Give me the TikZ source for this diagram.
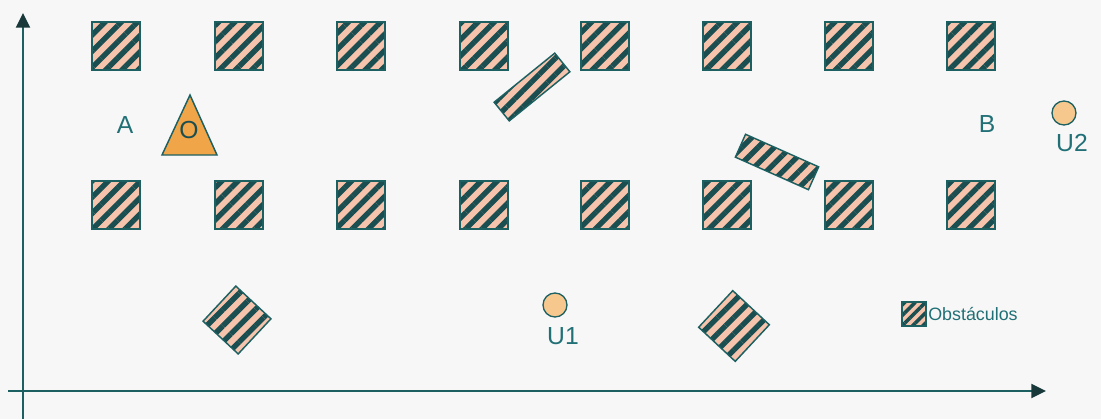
\documentclass[tikz,border=0pt]{standalone}
\usepackage{fontspec}
\setmainfont{Liberation Sans}
\usetikzlibrary{patterns.meta,arrows.meta,calc}
\definecolor{fondo}{RGB}{247,247,247}
\definecolor{verdeosc}{RGB}{28,96,98}
\definecolor{rayas}{RGB}{26,78,80}
\definecolor{flecha}{RGB}{24,56,58}
\definecolor{salmon}{RGB}{246,196,172}
\definecolor{naranja}{RGB}{240,165,72}
\definecolor{crema}{RGB}{246,200,142}
\definecolor{textoc}{RGB}{32,112,118}
% obstaculo girado: centro, angulo, semilargo, semiancho
\newcommand{\obstgirado}[4]{%
  \draw[obst] ($(#1)+(#2:#3)+(#2+90:#4)$) -- ($(#1)+(#2+180:#3)+(#2+90:#4)$)
    -- ($(#1)+(#2+180:#3)+(#2-90:#4)$) -- ($(#1)+(#2:#3)+(#2-90:#4)$) -- cycle;}
\begin{document}
\begin{tikzpicture}[x=0.75pt,y=-0.75pt,
    obst/.style={draw=verdeosc, line width=1.1pt, preaction={fill=salmon},
      pattern={Lines[angle=45,distance=8.6pt,line width=4pt]}, pattern color=rayas},
    etiq/.style={text=textoc, font=\fontsize{18.5}{20}\selectfont, inner sep=0pt},
    movil/.style={circle, draw=verdeosc, fill=crema, line width=1pt, minimum size=18pt, inner sep=0pt},
    eje/.style={draw=verdeosc, line width=1.5pt, -{Triangle[length=11pt,width=10.5pt,color=flecha]}}]
    \path[use as bounding box, fill=fondo] (0,0) rectangle (1101,419);
    % Ejes
    \coordinate (yini) at (23,419);
    \coordinate (yfin) at (23,13);
    \coordinate (xini) at (8,391);
    \coordinate (xfin) at (1046,391);
    \draw[eje] (yini) -- (yfin);
    \draw[eje] (xini) -- (xfin);
    % Obstaculos
    \foreach \x in {116,239,361,484,605,727,849,971}
        \foreach \y in {46,205}
            \draw[obst] (\x-24,\y-24) rectangle (\x+24,\y+24);
    \coordinate (r1) at (532,87);
    \coordinate (r2) at (777,162);
    \coordinate (d1) at (237,320);
    \coordinate (d2) at (734,326);
    \obstgirado{r1}{-39}{39}{12}
    \obstgirado{r2}{24}{40}{12.5}
    \obstgirado{d1}{43}{24}{24}
    \obstgirado{d2}{43}{25}{25}
    % Puntos A y B
    \node[etiq] (A) at (125,125) {A};
    \node[etiq] (B) at (987,124) {B};
    \draw[draw=verdeosc, fill=naranja, line width=1.1pt] (190,95) -- (217,155) -- (162,155) -- cycle;
    \node[etiq, text=rayas] (O) at (189,130) {O};
    % Usuarios
    \node[movil] (u1) at (555,305) {};
    \node[etiq] (U1) at (563,336) {U1};
    \node[movil] (u2) at (1064,113) {};
    \node[etiq] (U2) at (1072,143) {U2};
    % Leyenda
    \draw[obst, pattern={Lines[angle=45,distance=5.5pt,line width=2.6pt]}] (902,302) rectangle (926,326);
    \node[etiq, anchor=west, font=\fontsize{13.4}{15}\selectfont] (ley) at (928,314) {Obstáculos};
\end{tikzpicture}
\end{document}
